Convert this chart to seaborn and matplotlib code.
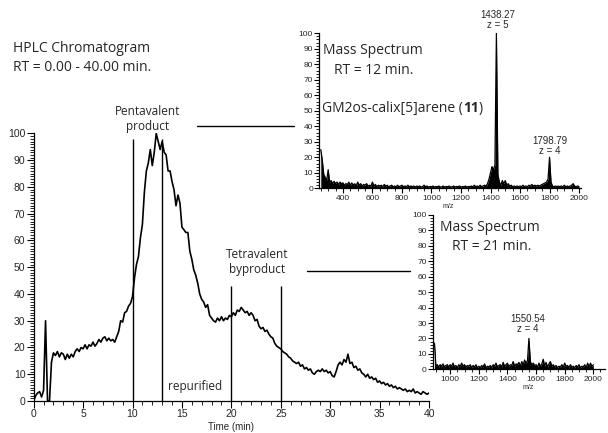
import numpy as np
import pandas as pd
import matplotlib
matplotlib.use("Agg")
import matplotlib.pyplot as plt
from matplotlib.ticker import MultipleLocator
import seaborn as sns

# ---------------- data ----------------
time_step = 0.2
chrom_signal = [
    0, 2, 3, 3.5, 1.5, 4, 30, 0, 0, 14.5,
    18, 17, 18.5, 16.5, 18, 17.5, 15.5, 17.5, 16, 17.5,
    16.5, 18.5, 19.5, 18.5, 20, 19.5, 21, 19.5, 21, 20.5,
    22, 20.5, 21.5, 23, 22, 23.5, 24, 22.5, 23.5, 22.5,
    23, 22, 24, 26, 30, 29.5, 33, 33.5, 35.5, 36.5,
    39, 46, 51, 54, 61, 66, 78, 86, 89, 94,
    88, 93, 100, 97, 94, 97, 93, 92, 86, 86,
    82, 79, 73, 77, 74, 65, 64, 63, 63, 56,
    53, 49, 47, 44, 40, 38, 37, 35, 36, 32,
    31, 30, 29.5, 31, 30, 31.5, 30, 31, 30.5, 32,
    31.5, 33, 32, 34, 33.5, 35, 34, 33, 33.5, 32,
    33, 32, 30, 30.5, 28, 27, 27.5, 26, 26.5, 25,
    24, 23.5, 21.5, 20.5, 20, 19.5, 18.5, 18, 17.5, 16.5,
    16, 15, 14.5, 14, 14.5, 13, 13.5, 12, 12.5, 11.5,
    12, 10.5, 10, 11, 11.5, 11, 12, 11, 11.5, 10.5,
    11, 9.5, 9, 11, 13.5, 14.5, 13.5, 15.5, 14.5, 17.5,
    14, 14.5, 12.5, 13, 11.5, 12, 10.5, 10, 9, 10,
    8.5, 9, 8, 8.5, 7, 7.5, 6.5, 7, 6, 6.5,
    5.5, 6, 5, 5.5, 4.5, 5, 4.5, 4, 4.5, 3.5,
    4, 3.5, 4.5, 3, 3.5, 3, 2.5, 3.5, 3, 2.5,
    3,
]
chrom_time = [round(i * time_step, 1) for i in range(len(chrom_signal))]

cut_times = [10, 13, 20, 25]
cut_tops = [98, 98, 43, 43]

# Mass spectrum at RT = 12 min (m/z 250..2000, step 10)
ms12_start, ms12_step = 250, 10
ms12_intensity = [
    25, 18, 9, 7, 5,
    12, 4, 5, 3, 4.5, 3, 4, 2.5, 4, 3,
    3.5, 2, 3, 2.5, 4, 2, 3.5, 2, 3, 1.5,
    4, 2, 3, 1.5, 2.5, 2, 3, 1.5, 2, 1.5,
    4, 1.5, 2.5, 1, 2, 1.5, 2, 1, 2.5, 1.5,
    2, 1, 1.5, 2, 1, 1.5, 1, 2, 1, 1.5,
    2, 1, 1.5, 1, 2, 1, 1.5, 1, 1.5, 0.8,
    1.5, 1, 1.5, 0.8, 1.2, 2, 1, 1.5, 0.8, 1.2,
    1, 1.5, 0.8, 1.2, 1, 1.5, 0.8, 1, 1.5, 0.8,
    1.2, 1, 1.5, 0.8, 1, 1.5, 0.8, 1.2, 1, 1.5,
    0.8, 1.2, 1, 1.5, 0.8, 1.2, 1, 1.5, 1, 2,
    1, 1.5, 1, 2, 1, 1.5, 2, 1.5, 3, 6,
    10, 14, 12, 15, 100, 9, 4, 2, 5, 3,
    5, 2, 3, 1.5, 2, 1, 1.5, 1, 1.5, 1,
    1.5, 1, 2, 1, 1.5, 1, 2, 1.5, 2.5, 1.5,
    2, 1.5, 2, 1.5, 2, 2.5, 3, 3.5, 4, 6,
    20, 4, 1.5, 1, 1.5, 1, 1.5, 1, 1.5, 1,
    2, 1, 1.5, 1, 1.5, 2, 3, 1.5, 1, 1.5,
    1,
]
ms12_mz = [ms12_start + i * ms12_step for i in range(len(ms12_intensity))]

# Mass spectrum at RT = 21 min (m/z 890..2000, step 10)
ms21_start, ms21_step = 890, 10
ms21_intensity = [
    17, 2, 3, 1.5, 3, 2, 3.5, 1.5, 2.5, 3, 1.5,
    3, 2, 4, 1.5, 2.5, 1, 3, 2, 4, 2,
    3, 1.5, 2.5, 2, 3, 1, 2.5, 1.5, 3, 1,
    2, 1, 2.5, 1.5, 3.5, 1, 2, 1.5, 2.5, 1,
    3, 2, 4, 1.5, 2.5, 3, 1.5, 4.5, 2, 3,
    4, 1.5, 3, 2.5, 5, 2, 3.5, 3, 4.5, 2,
    5, 3, 6, 4, 5.5, 20, 5, 3, 4, 2.5,
    3, 1.5, 4, 2, 3.5, 6.5, 2, 4.5, 1.5, 3.5,
    5, 2, 3, 1.5, 2.5, 1, 2, 1.5, 3, 1.5,
    4, 2, 2.5, 1, 3, 1.5, 2, 1, 2.5, 1.5,
    3, 1, 2, 1.5, 3, 1, 4, 1.5, 4, 2,
    3,
]
ms21_mz = [ms21_start + i * ms21_step for i in range(len(ms21_intensity))]

ms12_peaks = ["1438.27\nz = 5", "1798.79\nz = 4"]
ms21_peaks = ["1550.54\nz = 4"]

# ---------------- style ----------------
sns.set_theme(style="ticks")
plt.rcParams["font.family"] = ["Liberation Sans", "DejaVu Sans"]
ann_font = ["Open Sans", "DejaVu Sans"]

fig = plt.figure(figsize=(6.08, 4.33), dpi=100)
fig.patch.set_facecolor("white")

def style_axes(ax, lab_size, major_len, minor_len):
    sns.despine(ax=ax)
    for s in ("left", "bottom"):
        ax.spines[s].set_linewidth(0.9)
        ax.spines[s].set_color("black")
    ax.tick_params(axis="both", which="major", direction="out", length=major_len,
                   width=0.8, color="black", labelsize=lab_size, pad=1)
    ax.tick_params(axis="both", which="minor", direction="out", length=minor_len,
                   width=0.6, color="black")
    ax.set_facecolor("none")
    ax.set_xlabel("")
    ax.set_ylabel("")

# ---------------- main chromatogram ----------------
ax = fig.add_axes([0.0554, 0.0739, 0.7056 - 0.0554, 0.6917 - 0.0739])
df = pd.DataFrame({"Time": chrom_time, "Signal": chrom_signal})
sns.lineplot(data=df, x="Time", y="Signal", ax=ax, color="black", lw=1.2, estimator=None)
ax.vlines(cut_times, 0, cut_tops, color="black", lw=1.0)
ax.set_xlim(0, 40)
ax.set_ylim(0, 100)
ax.xaxis.set_major_locator(MultipleLocator(5))
ax.xaxis.set_minor_locator(MultipleLocator(1))
ax.yaxis.set_major_locator(MultipleLocator(10))
ax.yaxis.set_minor_locator(MultipleLocator(1))
style_axes(ax, 7.5, 5, 3)
ax.set_xlabel("Time (min)", fontsize=7, labelpad=2)

ax.text(11.5, 105.4, "Pentavalent\nproduct", ha="center", va="center", fontsize=8.5,
        family=ann_font, linespacing=1.15, clip_on=False)
ax.plot([16.5, 26.3], [102.8, 102.8], color="black", lw=1.0, clip_on=False)
ax.text(16.3, 5.6, "repurified", ha="center", va="center", fontsize=8.5, family=ann_font)
ax.text(22.6, 52, "Tetravalent\nbyproduct", ha="center", va="center", fontsize=8.5,
        family=ann_font, linespacing=1.15)
ax.plot([27.7, 38.1], [48.6, 48.6], color="black", lw=1.0, clip_on=False)

fig.text(0.0214, 0.887, "HPLC Chromatogram", ha="left", va="center", fontsize=10,
         family=ann_font)
fig.text(0.0214, 0.845, "RT = 0.00 - 40.00 min.", ha="left", va="center", fontsize=10,
         family=ann_font)

# ---------------- inset: RT 12 ----------------
ax1 = fig.add_axes([0.5252, 0.5651, 0.9548 - 0.5252, 0.9231 - 0.5651])
sns.lineplot(x=ms12_mz, y=ms12_intensity, ax=ax1, color="black", lw=0.9, estimator=None)
ax1.fill_between(ms12_mz, 0, ms12_intensity, color="black", lw=0)
ax1.set_xlim(240, 2010)
ax1.set_ylim(0, 100)
ax1.xaxis.set_major_locator(MultipleLocator(200))
ax1.xaxis.set_minor_locator(MultipleLocator(50))
ax1.yaxis.set_major_locator(MultipleLocator(10))
ax1.yaxis.set_minor_locator(MultipleLocator(2))
style_axes(ax1, 6, 3.5, 2)
ax1.set_xticks([400, 600, 800, 1000, 1200, 1400, 1600, 1800, 2000])
ax1.text(1110, -12, "m/z", ha="center", va="center", fontsize=5, clip_on=False)

ax1.text(603, 89, "Mass Spectrum", ha="center", va="center", fontsize=10, family=ann_font)
ax1.text(610, 76, "RT = 12 min.", ha="center", va="center", fontsize=10, family=ann_font)
ax1.text(258, 51.7, "GM2os-calix[5]arene (", ha="left", va="center", fontsize=10,
         family=ann_font)
t_main = ax1.texts[-1]
fig.canvas.draw()
bb = t_main.get_window_extent()
x_end = ax1.transData.inverted().transform((bb.x1, bb.y0))[0]
ax1.text(x_end, 51.7, "11", ha="left", va="center", fontsize=10, family=ann_font,
         fontweight="bold")
fig.canvas.draw()
bb2 = ax1.texts[-1].get_window_extent()
x_end2 = ax1.transData.inverted().transform((bb2.x1, bb2.y0))[0]
ax1.text(x_end2, 51.7, ")", ha="left", va="center", fontsize=10, family=ann_font)

ax1.text(1447, 108.6, ms12_peaks[0], ha="center", va="center", fontsize=7,
         linespacing=1.0, clip_on=False)
ax1.text(1799, 27.6, ms12_peaks[1], ha="center", va="center", fontsize=7,
         linespacing=1.0)

# ---------------- inset: RT 21 ----------------
ax2 = fig.add_axes([0.7122, 0.1471, 0.9947 - 0.7122, 0.5035 - 0.1471])
sns.lineplot(x=ms21_mz, y=ms21_intensity, ax=ax2, color="black", lw=0.9, estimator=None)
ax2.fill_between(ms21_mz, 0, ms21_intensity, color="black", lw=0)
ax2.set_xlim(880, 2080)
ax2.set_ylim(0, 100)
ax2.set_xticks([1000, 1200, 1400, 1600, 1800, 2000])
ax2.xaxis.set_minor_locator(MultipleLocator(50))
ax2.yaxis.set_major_locator(MultipleLocator(10))
ax2.yaxis.set_minor_locator(MultipleLocator(2))
style_axes(ax2, 6, 3.5, 2)
ax2.text(1544, -12, "m/z", ha="center", va="center", fontsize=5, clip_on=False)
ax2.text(1276, 92.2, "Mass Spectrum", ha="center", va="center", fontsize=10, family=ann_font)
ax2.text(1293, 79.3, "RT = 21 min.", ha="center", va="center", fontsize=10, family=ann_font)
ax2.text(1544, 29.4, ms21_peaks[0], ha="center", va="center", fontsize=7, linespacing=1.0)

fig.savefig("out.png", dpi=100)
